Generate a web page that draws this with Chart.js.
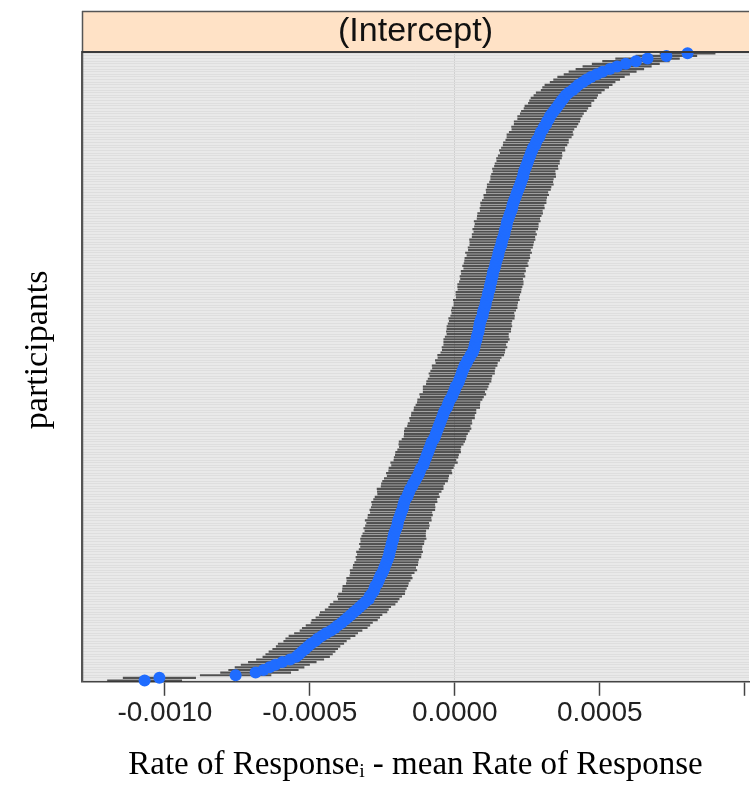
<!DOCTYPE html>
<html><head><meta charset="utf-8">
<script src="https://cdn.jsdelivr.net/npm/chart.js@4.4.1/dist/chart.umd.min.js"></script>
<style>html,body{margin:0;padding:0;background:#fff}</style>
</head><body>
<canvas id="c" width="755" height="800"></canvas>
<script>
const panelTitle = '(Intercept)';
const xTitle = 'Rate of Responseᵢ - mean Rate of Response';
const yTitle = '    participants';
const tickValues = [-0.001, -0.0005, 0, 0.0005, 0.001];
const tickLabels = ['-0.0010', '-0.0005', '0.0000', '0.0005', ''];

// conditional modes per participant (sorted)
const estimates = [
-1070e-6,-1019e-6,-756e-6,-687e-6,-660e-6,-639e-6,-619e-6,-595e-6,-568e-6,-547e-6,-537e-6,-527e-6,
-516e-6,-506e-6,-496e-6,-482e-6,-472e-6,-458e-6,-444e-6,-427e-6,-414e-6,-403e-6,-390e-6,-380e-6,
-369e-6,-359e-6,-349e-6,-338e-6,-328e-6,-318e-6,-308e-6,-297e-6,-294e-6,-287e-6,-280e-6,-277e-6,
-274e-6,-267e-6,-263e-6,-260e-6,-256e-6,-250e-6,-246e-6,-243e-6,-239e-6,-236e-6,-232e-6,-229e-6,
-226e-6,-225e-6,-222e-6,-219e-6,-218e-6,-215e-6,-212e-6,-211e-6,-209e-6,-205e-6,-202e-6,-198e-6,
-197e-6,-195e-6,-191e-6,-188e-6,-185e-6,-181e-6,-178e-6,-177e-6,-174e-6,-171e-6,-164e-6,-161e-6,
-157e-6,-154e-6,-147e-6,-144e-6,-137e-6,-133e-6,-127e-6,-123e-6,-120e-6,-116e-6,-109e-6,-106e-6,
-103e-6,-99e-6,-96e-6,-92e-6,-89e-6,-85e-6,-82e-6,-79e-6,-72e-6,-68e-6,-65e-6,-62e-6,
-58e-6,-55e-6,-51e-6,-48e-6,-44e-6,-41e-6,-38e-6,-34e-6,-27e-6,-24e-6,-21e-6,-17e-6,
-10e-6,-7e-6,-3e-6,1e-6,3e-6,10e-6,14e-6,17e-6,21e-6,24e-6,27e-6,31e-6,
34e-6,41e-6,44e-6,51e-6,55e-6,62e-6,65e-6,68e-6,69e-6,72e-6,75e-6,76e-6,
79e-6,82e-6,83e-6,85e-6,86e-6,89e-6,92e-6,96e-6,97e-6,99e-6,103e-6,106e-6,
107e-6,109e-6,113e-6,114e-6,116e-6,120e-6,121e-6,123e-6,126e-6,127e-6,130e-6,131e-6,
133e-6,137e-6,140e-6,141e-6,144e-6,147e-6,150e-6,151e-6,154e-6,157e-6,161e-6,162e-6,
164e-6,168e-6,171e-6,172e-6,174e-6,178e-6,179e-6,181e-6,185e-6,188e-6,191e-6,195e-6,
198e-6,199e-6,202e-6,205e-6,209e-6,212e-6,215e-6,219e-6,222e-6,226e-6,229e-6,232e-6,
236e-6,237e-6,239e-6,243e-6,246e-6,250e-6,253e-6,256e-6,260e-6,263e-6,267e-6,270e-6,
277e-6,280e-6,284e-6,291e-6,294e-6,297e-6,304e-6,308e-6,315e-6,318e-6,325e-6,328e-6,
335e-6,342e-6,349e-6,356e-6,362e-6,369e-6,376e-6,383e-6,393e-6,407e-6,417e-6,427e-6,
441e-6,455e-6,470e-6,490e-6,510e-6,535e-6,560e-6,590e-6,625e-6,665e-6,730e-6,803e-6
];
// half widths of the interval bars, one per participant
const ciHalf = [
128e-6,125e-6,122e-6,121e-6,120e-6,119e-6,118e-6,117e-6,116e-6,115e-6,115e-6,114e-6,
112e-6,110e-6,113e-6,108e-6,111e-6,114e-6,109e-6,107e-6,112e-6,110e-6,106e-6,113e-6,
110e-6,108e-6,115e-6,109e-6,107e-6,112e-6,110e-6,105e-6,111e-6,114e-6,108e-6,110e-6,
112e-6,107e-6,109e-6,113e-6,106e-6,110e-6,115e-6,108e-6,111e-6,109e-6,107e-6,112e-6,
110e-6,114e-6,108e-6,106e-6,111e-6,109e-6,113e-6,110e-6,108e-6,105e-6,112e-6,110e-6,
107e-6,114e-6,109e-6,111e-6,106e-6,112e-6,110e-6,108e-6,113e-6,109e-6,111e-6,105e-6,
110e-6,114e-6,107e-6,109e-6,112e-6,110e-6,106e-6,113e-6,108e-6,111e-6,109e-6,115e-6,
107e-6,110e-6,109e-6,112e-6,108e-6,106e-6,111e-6,113e-6,110e-6,107e-6,109e-6,112e-6,
114e-6,108e-6,110e-6,106e-6,112e-6,109e-6,111e-6,107e-6,113e-6,110e-6,108e-6,111e-6,
109e-6,114e-6,106e-6,110e-6,112e-6,108e-6,111e-6,109e-6,107e-6,113e-6,110e-6,108e-6,
112e-6,106e-6,111e-6,109e-6,114e-6,110e-6,108e-6,112e-6,107e-6,110e-6,113e-6,109e-6,
106e-6,111e-6,110e-6,112e-6,109e-6,108e-6,113e-6,110e-6,107e-6,111e-6,112e-6,109e-6,
110e-6,114e-6,108e-6,110e-6,112e-6,109e-6,111e-6,113e-6,110e-6,107e-6,112e-6,108e-6,
111e-6,106e-6,113e-6,109e-6,110e-6,112e-6,108e-6,114e-6,107e-6,111e-6,109e-6,110e-6,
113e-6,108e-6,111e-6,106e-6,112e-6,110e-6,109e-6,114e-6,108e-6,110e-6,112e-6,107e-6,
111e-6,109e-6,113e-6,110e-6,108e-6,112e-6,106e-6,111e-6,110e-6,114e-6,109e-6,108e-6,
112e-6,110e-6,107e-6,113e-6,109e-6,111e-6,108e-6,112e-6,110e-6,106e-6,113e-6,109e-6,
110e-6,112e-6,108e-6,111e-6,114e-6,109e-6,107e-6,112e-6,110e-6,113e-6,108e-6,111e-6,
109e-6,112e-6,110e-6,114e-6,108e-6,111e-6,113e-6,110e-6,112e-6,109e-6,114e-6,116e-6,
112e-6,114e-6,115e-6,113e-6,116e-6,117e-6,118e-6,116e-6,115e-6,110e-6,105e-6,95e-6
];
const participants = estimates.map((_, i) => 'P' + (i + 1));

const STRIP_TOP = 11;
const stripPlugin = {
  id: 'strip',
  beforeDraw(chart) {
    const { ctx, chartArea: a } = chart;
    ctx.save();
    ctx.fillStyle = '#e9e9e9';
    ctx.fillRect(a.left, a.top, a.right - a.left, a.bottom - a.top);
    ctx.fillStyle = '#ffe2c6';
    ctx.fillRect(a.left, STRIP_TOP, a.right - a.left, a.top - STRIP_TOP);
    ctx.restore();
  },
  afterDraw(chart) {
    const { ctx, chartArea: a } = chart;
    ctx.save();
    ctx.strokeStyle = '#555';
    ctx.lineWidth = 1.5;
    ctx.beginPath();
    ctx.moveTo(a.left, STRIP_TOP + 0.5); ctx.lineTo(a.right, STRIP_TOP + 0.5);
    ctx.moveTo(a.left + 0.5, STRIP_TOP); ctx.lineTo(a.left + 0.5, a.bottom);
    ctx.stroke();
    ctx.strokeStyle = '#3a3a3a';
    ctx.lineWidth = 2;
    ctx.beginPath();
    ctx.moveTo(a.left, a.top); ctx.lineTo(a.right, a.top);
    ctx.stroke();
    ctx.restore();
  }
};

new Chart(document.getElementById('c'), {
  type: 'bar',
  data: {
    labels: participants,
    datasets: [
      {
        type: 'bar',
        indexAxis: 'y',
        data: estimates.map((v, i) => [v - ciHalf[i], v + ciHalf[i]]),
        backgroundColor: 'rgba(20,20,20,0.7)',
        borderWidth: 0,
        barThickness: 1.5,
        grouped: false,
        order: 2
      },
      {
        type: 'line',
        indexAxis: 'y',
        data: estimates,
        showLine: false,
        pointRadius: 6,
        pointHoverRadius: 6,
        pointBackgroundColor: '#1f6cff',
        pointBorderWidth: 0,
        borderColor: '#1f6cff',
        order: 1
      }
    ]
  },
  options: {
    indexAxis: 'y',
    responsive: false,
    animation: false,
    layout: { padding: { top: STRIP_TOP, left: 10, right: 0, bottom: 15 } },
    plugins: {
      legend: { display: false },
      tooltip: { enabled: false },
      title: {
        display: true,
        text: panelTitle,
        fullSize: false,
        color: '#111',
        font: { family: "'Liberation Sans', Arial, sans-serif", size: 34, weight: 'normal', lineHeight: 1 },
        padding: { top: 4, bottom: 3 }
      }
    },
    scales: {
      x: {
        type: 'linear',
        min: -0.001286,
        max: 0.001015,
        afterBuildTicks: s => { s.ticks = tickValues.map(v => ({ value: v })); },
        ticks: {
          callback: v => { const k = tickValues.indexOf(v); return k >= 0 ? tickLabels[k] : ''; },
          font: { family: "'Liberation Sans', Arial, sans-serif", size: 28 },
          color: '#222',
          padding: 1,
          maxRotation: 0,
          autoSkip: false
        },
        grid: {
          color: c => (c.tick && c.tick.value === 0) ? '#d0d0d0' : 'rgba(0,0,0,0)',
          lineWidth: 1,
          drawTicks: true,
          tickLength: 14,
          tickColor: '#444',
          tickWidth: 1.5
        },
        border: { display: true, color: '#444', width: 1.5 },
        title: {
          display: true,
          text: xTitle,
          color: '#000',
          font: { family: "'Liberation Serif', 'Times New Roman', serif", size: 33, lineHeight: 1.2 },
          padding: { top: 14, bottom: 0 }
        }
      },
      y: {
        type: 'category',
        reverse: true,
        offset: true,
        ticks: { display: false },
        grid: { offset: false, color: '#dedede', lineWidth: 1, drawTicks: false },
        border: { display: true, color: '#555', width: 1.5 },
        title: {
          display: true,
          text: yTitle,
          color: '#000',
          font: { family: "'Liberation Serif', 'Times New Roman', serif", size: 34, lineHeight: 1.2 },
          padding: { top: 7.6, bottom: 23.6 }
        }
      }
    }
  },
  plugins: [stripPlugin]
});
</script>
</body></html>
